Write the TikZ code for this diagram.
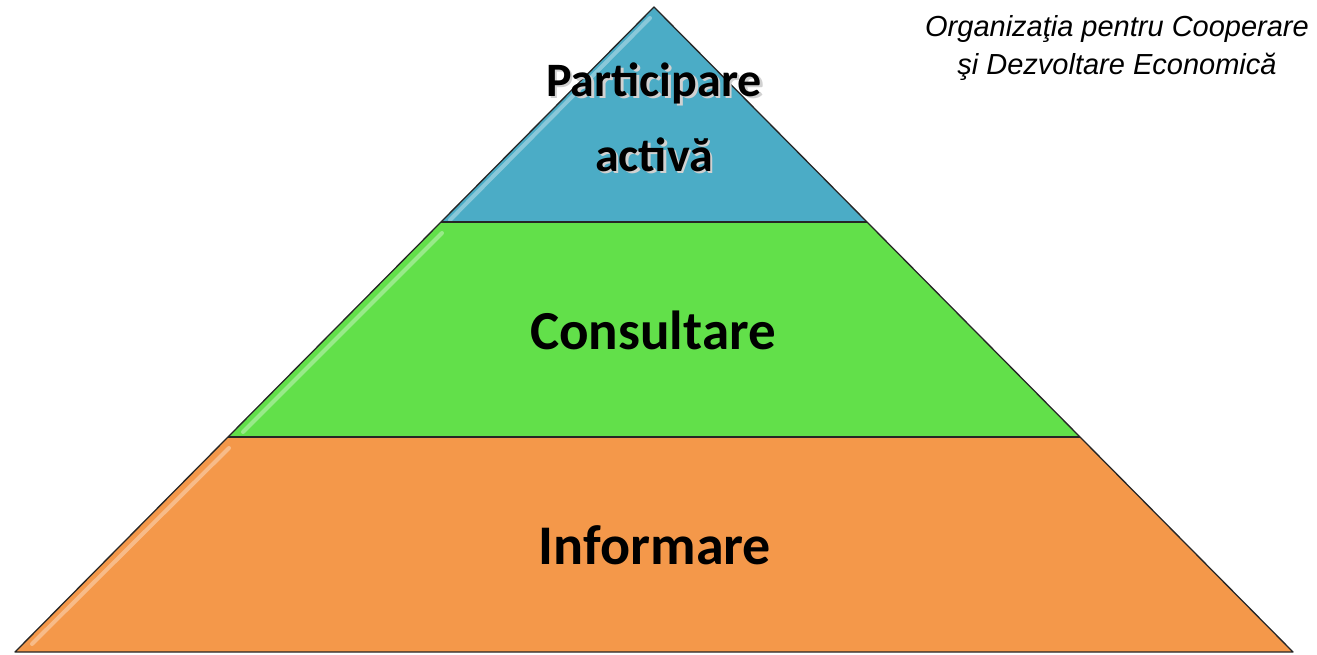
\documentclass[tikz,border=0pt]{standalone}
\usepackage{fontspec}
\setmainfont{Carlito}
\newfontfamily\ocdefont{Liberation Sans}
\definecolor{nivelsus}{HTML}{4BACC6}
\definecolor{nivelmij}{HTML}{62E04A}
\definecolor{niveljos}{HTML}{F4984A}
\tikzset{
  contur/.style={draw=black!85,line width=1.3pt,line join=round},
  luciu/.style={white,opacity=0.35,line width=4pt,line cap=round},
  eticheta/.style={font=\bfseries\fontsize{55}{60}\selectfont,text=black,align=center},
}

\begin{document}
\begin{tikzpicture}[x=1pt,y=1pt]
  \useasboundingbox (0,0) rectangle (1317,654);
  % colturile piramidei
  \coordinate (varf) at (654,647);
  \coordinate (s1) at (441,432); \coordinate (d1) at (867,432);
  \coordinate (s2) at (228,217); \coordinate (d2) at (1080,217);
  \coordinate (s3) at (15,2);    \coordinate (d3) at (1293,2);
  % benzile
  \fill[nivelsus] (varf) -- (d1) -- (s1) -- cycle;
  \fill[nivelmij] (s1) -- (d1) -- (d2) -- (s2) -- cycle;
  \fill[niveljos] (s2) -- (d2) -- (d3) -- (s3) -- cycle;
  % luciu pe marginea din stanga
  \foreach \xa/\ya/\xb/\yb in {650/636/450/434, 442/421/243/222, 229/206/32/10}
    \draw[luciu] (\xa,\ya) -- (\xb,\yb);
  % contur
  \draw[contur] (varf) -- (d3) -- (s3) -- cycle;
  \draw[contur] (s1) -- (d1);
  \draw[contur] (s2) -- (d2);
  % texte
  \node[eticheta,font=\bfseries\fontsize{48}{75}\selectfont,text=black!18] (umbra) at (656.5,534.5) {Participare\\activă};
  \node[eticheta,font=\bfseries\fontsize{48}{75}\selectfont] (particip) at (654,537) {Participare\\activă};
  \node[eticheta] (consult) at (653,324) {Consultare};
  \node[eticheta,font=\bfseries\fontsize{56}{60}\selectfont] (inform) at (655,109) {Informare};
  \node[font=\ocdefont\itshape\fontsize{29}{38}\selectfont,align=center] (ocde) at (1117,606)
    {Organizaţia pentru Cooperare\\şi Dezvoltare Economică};
\end{tikzpicture}
\end{document}
